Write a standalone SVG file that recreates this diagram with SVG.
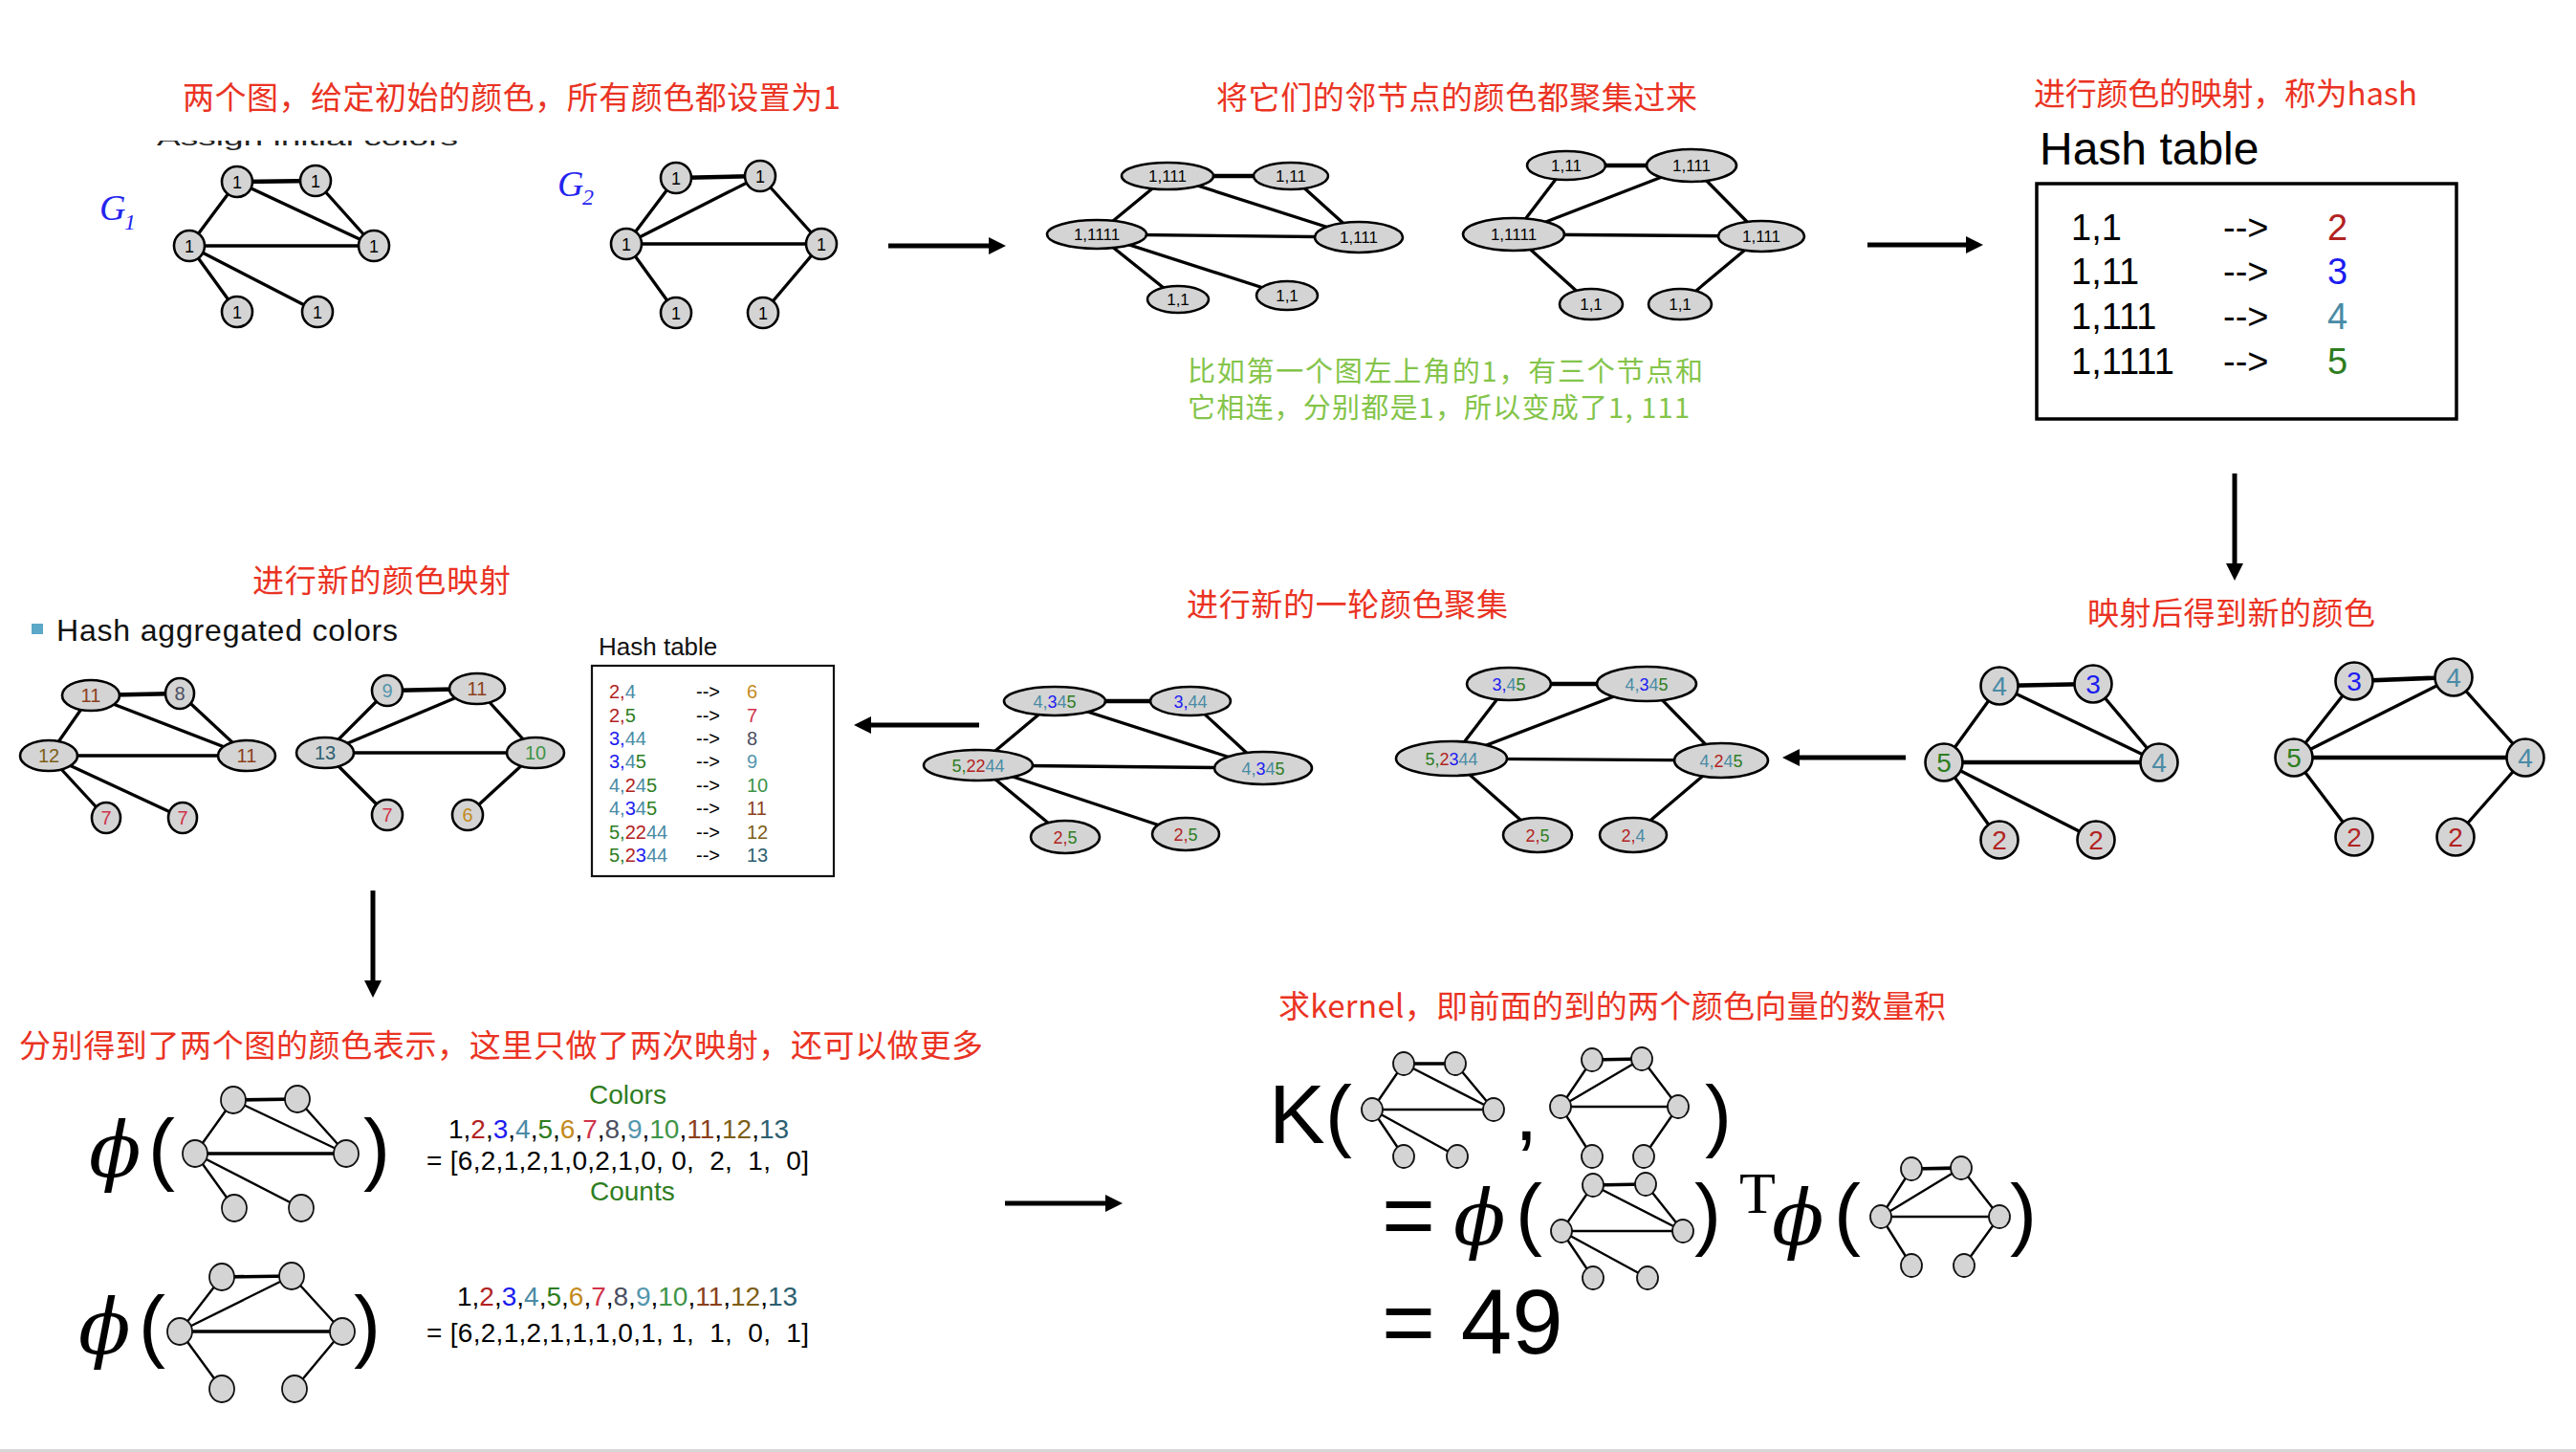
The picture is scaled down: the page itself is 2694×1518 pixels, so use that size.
<svg xmlns="http://www.w3.org/2000/svg" width="2694" height="1518" viewBox="0 0 2694 1518">
<defs>
<style>
.red{fill:#EA3323;font-family:"Noto Sans CJK SC","Noto Sans",sans-serif;font-size:33px}
.grn{fill:#84C44A;font-family:"Noto Sans CJK SC","Noto Sans",sans-serif;font-size:29px}
.e{stroke:#000;stroke-width:3.3;stroke-linecap:round;fill:none}
.ek{stroke-width:4.6}
.em{stroke:#000;stroke-width:2.4;stroke-linecap:round;fill:none}
.emk{stroke-width:3.6}
.n{fill:#D4D4D4;stroke:#000;stroke-width:2.6}
.nm{fill:#D4D4D4;stroke:#111;stroke-width:1.8}
.lab{font-family:"Liberation Sans",Arial,sans-serif;text-anchor:middle}
.s{font-family:"Liberation Sans",Arial,sans-serif}
.phi{font-family:"DejaVu Serif",serif;font-style:italic;font-size:80px}
.par{font-family:"Liberation Sans",Arial,sans-serif;font-size:84px}
.gl{font-family:"Liberation Serif",serif;font-style:italic;fill:#2424EE}
.arr{stroke:#000;stroke-width:5;fill:none}
.c2{fill:#B22222}.c3{fill:#1C1CF0}.c4{fill:#4A8BA6}.c5{fill:#2E7D1F}.c6{fill:#C48A1C}.c7{fill:#D0334A}.c8{fill:#4B4E60}.c9{fill:#5496AE}.c10{fill:#3E9447}.c11{fill:#8A3F1C}.c12{fill:#7D5E14}.c13{fill:#2D5F70}
</style>
<marker id="ah" markerUnits="userSpaceOnUse" markerWidth="18" markerHeight="18" refX="0" refY="9" orient="auto" viewBox="0 0 18 18"><path d="M0,0 L18,9 L0,18 z" fill="#000"/></marker>
<clipPath id="clipA"><rect x="150" y="147" width="350" height="15"/></clipPath>
</defs>
<rect x="0" y="0" width="2694" height="1518" fill="#fff"/>
<rect x="0" y="1515" width="2694" height="3" fill="#D6D6D6"/>

<!-- titles -->
<g id="titles">
<text class="red" x="191" y="114" textLength="688">两个图，给定初始的颜色，所有颜色都设置为1</text>
<text class="red" x="1272" y="114" textLength="503">将它们的邻节点的颜色都聚集过来</text>
<text class="red" x="2127" y="110" textLength="401">进行颜色的映射，称为hash</text>
<text class="red" x="2183" y="653" textLength="301">映射后得到新的颜色</text>
<text class="red" x="1241" y="644" textLength="336">进行新的一轮颜色聚集</text>
<text class="red" x="264" y="619" textLength="270">进行新的颜色映射</text>
<text class="red" x="20" y="1105" textLength="1008">分别得到了两个图的颜色表示，这里只做了两次映射，还可以做更多</text>
<text class="red" x="1337" y="1064" textLength="698">求kernel，即前面的到的两个颜色向量的数量积</text>
<text class="grn" x="1242" y="399" textLength="539">比如第一个图左上角的1，有三个节点和</text>
<text class="grn" x="1242" y="437" textLength="525">它相连，分别都是1，所以变成了1, 111</text>
<text class="s" x="164" y="152" font-size="22" fill="#222" textLength="315" lengthAdjust="spacingAndGlyphs" clip-path="url(#clipA)">Assign initial colors</text>
<text class="gl" x="104" y="230" font-size="38">G</text><text class="gl" x="130" y="240" font-size="24">1</text>
<text class="gl" x="583" y="205" font-size="38">G</text><text class="gl" x="609" y="214" font-size="24">2</text>
</g>

<g id="connectors">
<!-- arrows -->
<line class="arr" x1="929" y1="257" x2="1034" y2="257" marker-end="url(#ah)"/>
<line class="arr" x1="1953" y1="256" x2="2056" y2="256" marker-end="url(#ah)"/>
<line class="arr" x1="2337" y1="495" x2="2337" y2="589" marker-end="url(#ah)"/>
<line class="arr" x1="1993" y1="792" x2="1882" y2="792" marker-end="url(#ah)"/>
<line class="arr" x1="1024" y1="758" x2="911" y2="758" marker-end="url(#ah)"/>
<line class="arr" x1="390" y1="931" x2="390" y2="1025" marker-end="url(#ah)"/>
<line class="arr" x1="1051" y1="1258" x2="1156" y2="1258" marker-end="url(#ah)"/>
<!-- G1 -->
<g id="e-g1">
<line class="e ek" x1="248" y1="190" x2="330" y2="189"/>
<line class="e" x1="248" y1="190" x2="198" y2="257"/>
<line class="e" x1="248" y1="190" x2="391" y2="257"/>
<line class="e" x1="330" y1="189" x2="391" y2="257"/>
<line class="e" x1="198" y1="257" x2="391" y2="257"/>
<line class="e" x1="198" y1="257" x2="248" y2="326"/>
<line class="e" x1="198" y1="257" x2="332" y2="326"/>
</g>
<g id="e-g2">
<line class="e ek" x1="707" y1="186" x2="795" y2="184"/>
<line class="e" x1="707" y1="186" x2="655" y2="255"/>
<line class="e" x1="795" y1="184" x2="655" y2="255"/>
<line class="e" x1="795" y1="184" x2="859" y2="255"/>
<line class="e" x1="655" y1="255" x2="859" y2="255"/>
<line class="e" x1="655" y1="255" x2="707" y2="327"/>
<line class="e" x1="859" y1="255" x2="798" y2="327"/>
</g>
<g id="e-tm1">
<line class="e ek" x1="1221" y1="184" x2="1350" y2="184"/>
<line class="e" x1="1221" y1="184" x2="1147" y2="245"/>
<line class="e" x1="1221" y1="184" x2="1421" y2="248"/>
<line class="e" x1="1350" y1="184" x2="1421" y2="248"/>
<line class="e" x1="1147" y1="245" x2="1421" y2="248"/>
<line class="e" x1="1147" y1="245" x2="1232" y2="313"/>
<line class="e" x1="1147" y1="245" x2="1346" y2="309"/>
</g>
<g id="e-tm2">
<line class="e ek" x1="1638" y1="173" x2="1769" y2="173"/>
<line class="e" x1="1638" y1="173" x2="1583" y2="245"/>
<line class="e" x1="1769" y1="173" x2="1583" y2="245"/>
<line class="e" x1="1769" y1="173" x2="1842" y2="247"/>
<line class="e" x1="1583" y1="245" x2="1842" y2="247"/>
<line class="e" x1="1583" y1="245" x2="1664" y2="318"/>
<line class="e" x1="1842" y1="247" x2="1757" y2="318"/>
</g>
<g id="e-mr1">
<line class="e ek" x1="2091" y1="717" x2="2189" y2="715"/>
<line class="e" x1="2091" y1="717" x2="2033" y2="797"/>
<line class="e" x1="2091" y1="717" x2="2258" y2="797"/>
<line class="e" x1="2189" y1="715" x2="2258" y2="797"/>
<line class="e ek" x1="2033" y1="797" x2="2258" y2="797"/>
<line class="e" x1="2033" y1="797" x2="2091" y2="878"/>
<line class="e" x1="2033" y1="797" x2="2192" y2="878"/>
</g>
<g id="e-mr2">
<line class="e ek" x1="2462" y1="712" x2="2566" y2="708"/>
<line class="e" x1="2462" y1="712" x2="2399" y2="792"/>
<line class="e" x1="2566" y1="708" x2="2399" y2="792"/>
<line class="e" x1="2566" y1="708" x2="2641" y2="792"/>
<line class="e ek" x1="2399" y1="792" x2="2641" y2="792"/>
<line class="e" x1="2399" y1="792" x2="2462" y2="875"/>
<line class="e" x1="2641" y1="792" x2="2568" y2="875"/>
</g>
<g id="e-mc1">
<line class="e ek" x1="1103" y1="733" x2="1245" y2="733"/>
<line class="e" x1="1103" y1="733" x2="1023" y2="800"/>
<line class="e" x1="1103" y1="733" x2="1321" y2="803"/>
<line class="e" x1="1245" y1="733" x2="1321" y2="803"/>
<line class="e" x1="1023" y1="800" x2="1321" y2="803"/>
<line class="e" x1="1023" y1="800" x2="1114" y2="875"/>
<line class="e" x1="1023" y1="800" x2="1240" y2="872"/>
</g>
<g id="e-mc2">
<line class="e ek" x1="1578" y1="715" x2="1722" y2="715"/>
<line class="e" x1="1578" y1="715" x2="1518" y2="793"/>
<line class="e" x1="1722" y1="715" x2="1518" y2="793"/>
<line class="e" x1="1722" y1="715" x2="1800" y2="795"/>
<line class="e" x1="1518" y1="793" x2="1800" y2="795"/>
<line class="e" x1="1518" y1="793" x2="1608" y2="873"/>
<line class="e" x1="1800" y1="795" x2="1708" y2="873"/>
</g>
<g id="e-ml1">
<line class="e ek" x1="95" y1="727" x2="188" y2="725"/>
<line class="e" x1="95" y1="727" x2="51" y2="790"/>
<line class="e" x1="95" y1="727" x2="258" y2="790"/>
<line class="e" x1="188" y1="725" x2="258" y2="790"/>
<line class="e" x1="51" y1="790" x2="258" y2="790"/>
<line class="e" x1="51" y1="790" x2="111" y2="855"/>
<line class="e" x1="51" y1="790" x2="191" y2="855"/>
</g>
<g id="e-ml2">
<line class="e ek" x1="405" y1="722" x2="499" y2="720"/>
<line class="e" x1="405" y1="722" x2="340" y2="787"/>
<line class="e" x1="499" y1="720" x2="340" y2="787"/>
<line class="e" x1="499" y1="720" x2="560" y2="787"/>
<line class="e" x1="340" y1="787" x2="560" y2="787"/>
<line class="e" x1="340" y1="787" x2="405" y2="852"/>
<line class="e" x1="560" y1="787" x2="489" y2="852"/>
</g>
<!-- mini graphs -->
<g id="e-bl1">
<line class="em emk" x1="244" y1="1150" x2="311" y2="1149"/>
<line class="em" x1="244" y1="1150" x2="204" y2="1206"/>
<line class="em" x1="244" y1="1150" x2="362" y2="1206"/>
<line class="em" x1="311" y1="1149" x2="362" y2="1206"/>
<line class="em emk" x1="204" y1="1206" x2="362" y2="1206"/>
<line class="em" x1="204" y1="1206" x2="245" y2="1263"/>
<line class="em" x1="204" y1="1206" x2="315" y2="1263"/>
</g>
<g id="e-bl2">
<line class="em emk" x1="232" y1="1335" x2="305" y2="1334"/>
<line class="em" x1="232" y1="1335" x2="188" y2="1392"/>
<line class="em" x1="305" y1="1334" x2="188" y2="1392"/>
<line class="em" x1="305" y1="1334" x2="358" y2="1392"/>
<line class="em emk" x1="188" y1="1392" x2="358" y2="1392"/>
<line class="em" x1="188" y1="1392" x2="232" y2="1452"/>
<line class="em" x1="358" y1="1392" x2="308" y2="1452"/>
</g>
<g id="e-k1">
<line class="em emk" x1="1468" y1="1112" x2="1522" y2="1112"/>
<line class="em" x1="1468" y1="1112" x2="1435" y2="1160"/>
<line class="em" x1="1468" y1="1112" x2="1562" y2="1160"/>
<line class="em" x1="1522" y1="1112" x2="1562" y2="1160"/>
<line class="em" x1="1435" y1="1160" x2="1562" y2="1160"/>
<line class="em" x1="1435" y1="1160" x2="1468" y2="1209"/>
<line class="em" x1="1435" y1="1160" x2="1524" y2="1209"/>
</g>
<g id="e-k2">
<line class="em emk" x1="1665" y1="1108" x2="1717" y2="1107"/>
<line class="em" x1="1665" y1="1108" x2="1632" y2="1157"/>
<line class="em" x1="1717" y1="1107" x2="1632" y2="1157"/>
<line class="em" x1="1717" y1="1107" x2="1755" y2="1157"/>
<line class="em" x1="1632" y1="1157" x2="1755" y2="1157"/>
<line class="em" x1="1632" y1="1157" x2="1665" y2="1209"/>
<line class="em" x1="1755" y1="1157" x2="1719" y2="1209"/>
</g>
<g id="e-p1">
<line class="em emk" x1="1666" y1="1239" x2="1721" y2="1238"/>
<line class="em" x1="1666" y1="1239" x2="1633" y2="1287"/>
<line class="em" x1="1666" y1="1239" x2="1760" y2="1287"/>
<line class="em" x1="1721" y1="1238" x2="1760" y2="1287"/>
<line class="em" x1="1633" y1="1287" x2="1760" y2="1287"/>
<line class="em" x1="1633" y1="1287" x2="1666" y2="1336"/>
<line class="em" x1="1633" y1="1287" x2="1723" y2="1336"/>
</g>
<g id="e-p2">
<line class="em emk" x1="1999" y1="1222" x2="2051" y2="1221"/>
<line class="em" x1="1999" y1="1222" x2="1967" y2="1272"/>
<line class="em" x1="2051" y1="1221" x2="1967" y2="1272"/>
<line class="em" x1="2051" y1="1221" x2="2091" y2="1272"/>
<line class="em" x1="1967" y1="1272" x2="2091" y2="1272"/>
<line class="em" x1="1967" y1="1272" x2="1999" y2="1323"/>
<line class="em" x1="2091" y1="1272" x2="2054" y2="1323"/>
</g>
</g>

<!-- G1 nodes -->
<g id="g1-a"><circle class="n" cx="248" cy="190" r="16"/><text class="lab" x="248" y="196.5" font-size="18">1</text></g>
<g id="g1-b"><circle class="n" cx="330" cy="189" r="16"/><text class="lab" x="330" y="195.5" font-size="18">1</text></g>
<g id="g1-c"><circle class="n" cx="198" cy="257" r="16"/><text class="lab" x="198" y="263.5" font-size="18">1</text></g>
<g id="g1-d"><circle class="n" cx="391" cy="257" r="16"/><text class="lab" x="391" y="263.5" font-size="18">1</text></g>
<g id="g1-e"><circle class="n" cx="248" cy="326" r="16"/><text class="lab" x="248" y="332.5" font-size="18">1</text></g>
<g id="g1-f"><circle class="n" cx="332" cy="326" r="16"/><text class="lab" x="332" y="332.5" font-size="18">1</text></g>
<!-- G2 nodes -->
<g id="g2-a"><circle class="n" cx="707" cy="186" r="16"/><text class="lab" x="707" y="192.5" font-size="18">1</text></g>
<g id="g2-b"><circle class="n" cx="795" cy="184" r="16"/><text class="lab" x="795" y="190.5" font-size="18">1</text></g>
<g id="g2-c"><circle class="n" cx="655" cy="255" r="16"/><text class="lab" x="655" y="261.5" font-size="18">1</text></g>
<g id="g2-d"><circle class="n" cx="859" cy="255" r="16"/><text class="lab" x="859" y="261.5" font-size="18">1</text></g>
<g id="g2-e"><circle class="n" cx="707" cy="327" r="16"/><text class="lab" x="707" y="333.5" font-size="18">1</text></g>
<g id="g2-f"><circle class="n" cx="798" cy="327" r="16"/><text class="lab" x="798" y="333.5" font-size="18">1</text></g>

<!-- top middle graph 1 -->
<g id="tm1-a"><ellipse class="n" cx="1221" cy="184" rx="48" ry="14"/><text class="lab" x="1221" y="190" font-size="17">1,111</text></g>
<g id="tm1-b"><ellipse class="n" cx="1350" cy="184" rx="39" ry="14"/><text class="lab" x="1350" y="190" font-size="17">1,11</text></g>
<g id="tm1-c"><ellipse class="n" cx="1147" cy="245" rx="52" ry="15"/><text class="lab" x="1147" y="251" font-size="17">1,1111</text></g>
<g id="tm1-d"><ellipse class="n" cx="1421" cy="248" rx="46" ry="16"/><text class="lab" x="1421" y="254" font-size="17">1,111</text></g>
<g id="tm1-e"><ellipse class="n" cx="1232" cy="313" rx="32" ry="14"/><text class="lab" x="1232" y="319" font-size="17">1,1</text></g>
<g id="tm1-f"><ellipse class="n" cx="1346" cy="309" rx="32" ry="15"/><text class="lab" x="1346" y="315" font-size="17">1,1</text></g>
<!-- top middle graph 2 -->
<g id="tm2-a"><ellipse class="n" cx="1638" cy="173" rx="41" ry="15"/><text class="lab" x="1638" y="179" font-size="17">1,11</text></g>
<g id="tm2-b"><ellipse class="n" cx="1769" cy="173" rx="47" ry="17"/><text class="lab" x="1769" y="179" font-size="17">1,111</text></g>
<g id="tm2-c"><ellipse class="n" cx="1583" cy="245" rx="53" ry="17"/><text class="lab" x="1583" y="251" font-size="17">1,1111</text></g>
<g id="tm2-d"><ellipse class="n" cx="1842" cy="247" rx="45" ry="16"/><text class="lab" x="1842" y="253" font-size="17">1,111</text></g>
<g id="tm2-e"><ellipse class="n" cx="1664" cy="318" rx="33" ry="16"/><text class="lab" x="1664" y="324" font-size="17">1,1</text></g>
<g id="tm2-f"><ellipse class="n" cx="1757" cy="318" rx="33" ry="16"/><text class="lab" x="1757" y="324" font-size="17">1,1</text></g>

<!-- hash table 1 -->
<g id="hash1">
<text class="s" x="2133" y="172" font-size="48">Hash table</text>
<rect x="2130" y="192" width="439" height="246" fill="none" stroke="#000" stroke-width="3.5"/>
<g class="s" font-size="38">
<text x="2166" y="251">1,1</text><text x="2325" y="251">--&gt;</text><text x="2434" y="251" class="c2">2</text>
<text x="2166" y="297">1,11</text><text x="2325" y="297">--&gt;</text><text x="2434" y="297" class="c3">3</text>
<text x="2166" y="344">1,111</text><text x="2325" y="344">--&gt;</text><text x="2434" y="344" class="c4">4</text>
<text x="2166" y="391">1,1111</text><text x="2325" y="391">--&gt;</text><text x="2434" y="391" class="c5">5</text>
</g>
</g>

<!-- middle right graphs -->
<g id="mr1-a"><circle class="n" cx="2091" cy="717" r="19.5"/><text class="lab c4" x="2091" y="727" font-size="28">4</text></g>
<g id="mr1-b"><circle class="n" cx="2189" cy="715" r="19.5"/><text class="lab c3" x="2189" y="725" font-size="28">3</text></g>
<g id="mr1-c"><circle class="n" cx="2033" cy="797" r="19.5"/><text class="lab c5" x="2033" y="807" font-size="28">5</text></g>
<g id="mr1-d"><circle class="n" cx="2258" cy="797" r="19.5"/><text class="lab c4" x="2258" y="807" font-size="28">4</text></g>
<g id="mr1-e"><circle class="n" cx="2091" cy="878" r="19.5"/><text class="lab c2" x="2091" y="888" font-size="28">2</text></g>
<g id="mr1-f"><circle class="n" cx="2192" cy="878" r="19.5"/><text class="lab c2" x="2192" y="888" font-size="28">2</text></g>
<g id="mr2-a"><circle class="n" cx="2462" cy="712" r="19.5"/><text class="lab c3" x="2462" y="722" font-size="28">3</text></g>
<g id="mr2-b"><circle class="n" cx="2566" cy="708" r="19.5"/><text class="lab c4" x="2566" y="718" font-size="28">4</text></g>
<g id="mr2-c"><circle class="n" cx="2399" cy="792" r="19.5"/><text class="lab c5" x="2399" y="802" font-size="28">5</text></g>
<g id="mr2-d"><circle class="n" cx="2641" cy="792" r="19.5"/><text class="lab c4" x="2641" y="802" font-size="28">4</text></g>
<g id="mr2-e"><circle class="n" cx="2462" cy="875" r="19.5"/><text class="lab c2" x="2462" y="885" font-size="28">2</text></g>
<g id="mr2-f"><circle class="n" cx="2568" cy="875" r="19.5"/><text class="lab c2" x="2568" y="885" font-size="28">2</text></g>

<!-- middle center graphs -->
<g id="mc1-a"><ellipse class="n" cx="1103" cy="733" rx="53" ry="15"/><text class="lab" x="1103" y="739.5" font-size="18"><tspan class="c4">4,</tspan><tspan class="c3">3</tspan><tspan class="c4">4</tspan><tspan class="c5">5</tspan></text></g>
<g id="mc1-b"><ellipse class="n" cx="1245" cy="733" rx="42" ry="15"/><text class="lab" x="1245" y="739.5" font-size="18"><tspan class="c3">3,</tspan><tspan class="c4">44</tspan></text></g>
<g id="mc1-c"><ellipse class="n" cx="1023" cy="800" rx="57" ry="16"/><text class="lab" x="1023" y="806.5" font-size="18"><tspan class="c5">5,</tspan><tspan class="c2">22</tspan><tspan class="c4">44</tspan></text></g>
<g id="mc1-d"><ellipse class="n" cx="1321" cy="803" rx="51" ry="17"/><text class="lab" x="1321" y="809.5" font-size="18"><tspan class="c4">4,</tspan><tspan class="c3">3</tspan><tspan class="c4">4</tspan><tspan class="c5">5</tspan></text></g>
<g id="mc1-e"><ellipse class="n" cx="1114" cy="875" rx="36" ry="17"/><text class="lab" x="1114" y="881.5" font-size="18"><tspan class="c2">2,</tspan><tspan class="c5">5</tspan></text></g>
<g id="mc1-f"><ellipse class="n" cx="1240" cy="872" rx="35" ry="17"/><text class="lab" x="1240" y="878.5" font-size="18"><tspan class="c2">2,</tspan><tspan class="c5">5</tspan></text></g>
<g id="mc2-a"><ellipse class="n" cx="1578" cy="715" rx="44" ry="17"/><text class="lab" x="1578" y="721.5" font-size="18"><tspan class="c3">3,</tspan><tspan class="c4">4</tspan><tspan class="c5">5</tspan></text></g>
<g id="mc2-b"><ellipse class="n" cx="1722" cy="715" rx="52" ry="18"/><text class="lab" x="1722" y="721.5" font-size="18"><tspan class="c4">4,</tspan><tspan class="c3">3</tspan><tspan class="c4">4</tspan><tspan class="c5">5</tspan></text></g>
<g id="mc2-c"><ellipse class="n" cx="1518" cy="793" rx="58" ry="18"/><text class="lab" x="1518" y="799.5" font-size="18"><tspan class="c5">5,</tspan><tspan class="c2">2</tspan><tspan class="c3">3</tspan><tspan class="c4">44</tspan></text></g>
<g id="mc2-d"><ellipse class="n" cx="1800" cy="795" rx="49" ry="18"/><text class="lab" x="1800" y="801.5" font-size="18"><tspan class="c4">4,</tspan><tspan class="c2">2</tspan><tspan class="c4">4</tspan><tspan class="c5">5</tspan></text></g>
<g id="mc2-e"><ellipse class="n" cx="1608" cy="873" rx="36" ry="18"/><text class="lab" x="1608" y="879.5" font-size="18"><tspan class="c2">2,</tspan><tspan class="c5">5</tspan></text></g>
<g id="mc2-f"><ellipse class="n" cx="1708" cy="873" rx="35" ry="18"/><text class="lab" x="1708" y="879.5" font-size="18"><tspan class="c2">2,</tspan><tspan class="c4">4</tspan></text></g>

<!-- middle left -->
<g id="legend"><rect x="33" y="652" width="12" height="11" fill="#5BA8C8"/><text class="s" x="59" y="670" font-size="32" textLength="357" fill="#111">Hash aggregated colors</text></g>
<g id="ml1-a"><ellipse class="n" cx="95" cy="727" rx="30" ry="16"/><text class="lab c11" x="95" y="734" font-size="20">11</text></g>
<g id="ml1-b"><ellipse class="n" cx="188" cy="725" rx="15" ry="16"/><text class="lab c8" x="188" y="732" font-size="20">8</text></g>
<g id="ml1-c"><ellipse class="n" cx="51" cy="790" rx="30" ry="16"/><text class="lab c12" x="51" y="797" font-size="20">12</text></g>
<g id="ml1-d"><ellipse class="n" cx="258" cy="790" rx="30" ry="16"/><text class="lab c11" x="258" y="797" font-size="20">11</text></g>
<g id="ml1-e"><ellipse class="n" cx="111" cy="855" rx="15" ry="16"/><text class="lab c7" x="111" y="862" font-size="20">7</text></g>
<g id="ml1-f"><ellipse class="n" cx="191" cy="855" rx="15" ry="16"/><text class="lab c7" x="191" y="862" font-size="20">7</text></g>
<g id="ml2-a"><ellipse class="n" cx="405" cy="722" rx="16" ry="16"/><text class="lab c9" x="405" y="729" font-size="20">9</text></g>
<g id="ml2-b"><ellipse class="n" cx="499" cy="720" rx="29" ry="16"/><text class="lab c11" x="499" y="727" font-size="20">11</text></g>
<g id="ml2-c"><ellipse class="n" cx="340" cy="787" rx="30" ry="16"/><text class="lab c13" x="340" y="794" font-size="20">13</text></g>
<g id="ml2-d"><ellipse class="n" cx="560" cy="787" rx="30" ry="16"/><text class="lab c10" x="560" y="794" font-size="20">10</text></g>
<g id="ml2-e"><ellipse class="n" cx="405" cy="852" rx="16" ry="16"/><text class="lab c7" x="405" y="859" font-size="20">7</text></g>
<g id="ml2-f"><ellipse class="n" cx="489" cy="852" rx="16" ry="16"/><text class="lab c6" x="489" y="859" font-size="20">6</text></g>

<!-- hash table 2 -->
<g id="hash2">
<text class="s" x="626" y="685" font-size="26" fill="#111">Hash table</text>
<rect x="619" y="696" width="253" height="220" fill="none" stroke="#111" stroke-width="2.2"/>
<g class="s" font-size="20">
<text x="637" y="730"><tspan class="c2">2,</tspan><tspan class="c4">4</tspan></text><text x="728" y="730">--&gt;</text><text x="781" y="730" class="c6">6</text>
<text x="637" y="754.5"><tspan class="c2">2,</tspan><tspan class="c5">5</tspan></text><text x="728" y="754.5">--&gt;</text><text x="781" y="754.5" class="c7">7</text>
<text x="637" y="779"><tspan class="c3">3,</tspan><tspan class="c4">44</tspan></text><text x="728" y="779">--&gt;</text><text x="781" y="779" class="c8">8</text>
<text x="637" y="803.3"><tspan class="c3">3,</tspan><tspan class="c4">4</tspan><tspan class="c5">5</tspan></text><text x="728" y="803.3">--&gt;</text><text x="781" y="803.3" class="c9">9</text>
<text x="637" y="827.7"><tspan class="c4">4,</tspan><tspan class="c2">2</tspan><tspan class="c4">4</tspan><tspan class="c5">5</tspan></text><text x="728" y="827.7">--&gt;</text><text x="781" y="827.7" class="c10">10</text>
<text x="637" y="852.1"><tspan class="c4">4,</tspan><tspan class="c3">3</tspan><tspan class="c4">4</tspan><tspan class="c5">5</tspan></text><text x="728" y="852.1">--&gt;</text><text x="781" y="852.1" class="c11">11</text>
<text x="637" y="876.6"><tspan class="c5">5,</tspan><tspan class="c2">22</tspan><tspan class="c4">44</tspan></text><text x="728" y="876.6">--&gt;</text><text x="781" y="876.6" class="c12">12</text>
<text x="637" y="901"><tspan class="c5">5,</tspan><tspan class="c2">2</tspan><tspan class="c3">3</tspan><tspan class="c4">44</tspan></text><text x="728" y="901">--&gt;</text><text x="781" y="901" class="c13">13</text>
</g>
</g>

<!-- bottom left phi 1 -->
<g id="phi-row1">
<text class="phi" x="93" y="1230">ϕ</text>
<text class="par" x="155" y="1229">(</text>
<text class="par" x="380" y="1229">)</text>
<text class="s c5" x="616" y="1154" font-size="28">Colors</text>
<text class="s" x="469" y="1190" font-size="28">1,<tspan class="c2">2</tspan>,<tspan class="c3">3</tspan>,<tspan class="c4">4</tspan>,<tspan class="c5">5</tspan>,<tspan class="c6">6</tspan>,<tspan class="c7">7</tspan>,<tspan class="c8">8</tspan>,<tspan class="c9">9</tspan>,<tspan class="c10">10</tspan>,<tspan class="c11">11</tspan>,<tspan class="c12">12</tspan>,<tspan class="c13">13</tspan></text>
<text class="s" x="446" y="1223" font-size="28" textLength="400" xml:space="preserve">= [6,2,1,2,1,0,2,1,0, 0,  2,  1,  0]</text>
<text class="s c5" x="617" y="1255" font-size="28">Counts</text>
</g>
<g id="bl1-a"><ellipse class="nm" cx="244" cy="1150" rx="13" ry="14"/></g>
<g id="bl1-b"><ellipse class="nm" cx="311" cy="1149" rx="13" ry="14"/></g>
<g id="bl1-c"><ellipse class="nm" cx="204" cy="1206" rx="13" ry="14"/></g>
<g id="bl1-d"><ellipse class="nm" cx="362" cy="1206" rx="13" ry="14"/></g>
<g id="bl1-e"><ellipse class="nm" cx="245" cy="1263" rx="13" ry="14"/></g>
<g id="bl1-f"><ellipse class="nm" cx="315" cy="1263" rx="13" ry="14"/></g>

<g id="phi-row2">
<text class="phi" x="82" y="1415">ϕ</text>
<text class="par" x="145" y="1414">(</text>
<text class="par" x="370" y="1414">)</text>
<text class="s" x="478" y="1365" font-size="28">1,<tspan class="c2">2</tspan>,<tspan class="c3">3</tspan>,<tspan class="c4">4</tspan>,<tspan class="c5">5</tspan>,<tspan class="c6">6</tspan>,<tspan class="c7">7</tspan>,<tspan class="c8">8</tspan>,<tspan class="c9">9</tspan>,<tspan class="c10">10</tspan>,<tspan class="c11">11</tspan>,<tspan class="c12">12</tspan>,<tspan class="c13">13</tspan></text>
<text class="s" x="446" y="1403" font-size="28" textLength="400" xml:space="preserve">= [6,2,1,2,1,1,1,0,1, 1,  1,  0,  1]</text>
</g>
<g id="bl2-a"><ellipse class="nm" cx="232" cy="1335" rx="13" ry="14"/></g>
<g id="bl2-b"><ellipse class="nm" cx="305" cy="1334" rx="13" ry="14"/></g>
<g id="bl2-c"><ellipse class="nm" cx="188" cy="1392" rx="13" ry="14"/></g>
<g id="bl2-d"><ellipse class="nm" cx="358" cy="1392" rx="13" ry="14"/></g>
<g id="bl2-e"><ellipse class="nm" cx="232" cy="1452" rx="13" ry="14"/></g>
<g id="bl2-f"><ellipse class="nm" cx="308" cy="1452" rx="13" ry="14"/></g>

<!-- kernel formula -->
<g id="kernel">
<text class="s" x="1327" y="1195" font-size="88">K</text>
<text class="par" x="1386" y="1194">(</text>
<text class="s" x="1584" y="1192" font-size="88">,</text>
<text class="par" x="1783" y="1194">)</text>
<text class="s" x="1445" y="1303" font-size="96">=</text>
<text class="phi" x="1520" y="1301">ϕ</text>
<text class="par" x="1585" y="1297">(</text>
<text class="par" x="1772" y="1297">)</text>
<text x="1819" y="1268" font-family="Liberation Serif,serif" font-size="62">T</text>
<text class="phi" x="1853" y="1301">ϕ</text>
<text class="par" x="1918" y="1297">(</text>
<text class="par" x="2102" y="1297">)</text>
<text class="s" x="1445" y="1415" font-size="96" xml:space="preserve">= 49</text>
</g>
<g id="k1-a"><ellipse class="nm" cx="1468" cy="1112" rx="11" ry="12"/></g>
<g id="k1-b"><ellipse class="nm" cx="1522" cy="1112" rx="11" ry="12"/></g>
<g id="k1-c"><ellipse class="nm" cx="1435" cy="1160" rx="11" ry="12"/></g>
<g id="k1-d"><ellipse class="nm" cx="1562" cy="1160" rx="11" ry="12"/></g>
<g id="k1-e"><ellipse class="nm" cx="1468" cy="1209" rx="11" ry="12"/></g>
<g id="k1-f"><ellipse class="nm" cx="1524" cy="1209" rx="11" ry="12"/></g>
<g id="k2-a"><ellipse class="nm" cx="1665" cy="1108" rx="11" ry="12"/></g>
<g id="k2-b"><ellipse class="nm" cx="1717" cy="1107" rx="11" ry="12"/></g>
<g id="k2-c"><ellipse class="nm" cx="1632" cy="1157" rx="11" ry="12"/></g>
<g id="k2-d"><ellipse class="nm" cx="1755" cy="1157" rx="11" ry="12"/></g>
<g id="k2-e"><ellipse class="nm" cx="1665" cy="1209" rx="11" ry="12"/></g>
<g id="k2-f"><ellipse class="nm" cx="1719" cy="1209" rx="11" ry="12"/></g>
<g id="p1-a"><ellipse class="nm" cx="1666" cy="1239" rx="11" ry="12"/></g>
<g id="p1-b"><ellipse class="nm" cx="1721" cy="1238" rx="11" ry="12"/></g>
<g id="p1-c"><ellipse class="nm" cx="1633" cy="1287" rx="11" ry="12"/></g>
<g id="p1-d"><ellipse class="nm" cx="1760" cy="1287" rx="11" ry="12"/></g>
<g id="p1-e"><ellipse class="nm" cx="1666" cy="1336" rx="11" ry="12"/></g>
<g id="p1-f"><ellipse class="nm" cx="1723" cy="1336" rx="11" ry="12"/></g>
<g id="p2-a"><ellipse class="nm" cx="1999" cy="1222" rx="11" ry="12"/></g>
<g id="p2-b"><ellipse class="nm" cx="2051" cy="1221" rx="11" ry="12"/></g>
<g id="p2-c"><ellipse class="nm" cx="1967" cy="1272" rx="11" ry="12"/></g>
<g id="p2-d"><ellipse class="nm" cx="2091" cy="1272" rx="11" ry="12"/></g>
<g id="p2-e"><ellipse class="nm" cx="1999" cy="1323" rx="11" ry="12"/></g>
<g id="p2-f"><ellipse class="nm" cx="2054" cy="1323" rx="11" ry="12"/></g>
</svg>
